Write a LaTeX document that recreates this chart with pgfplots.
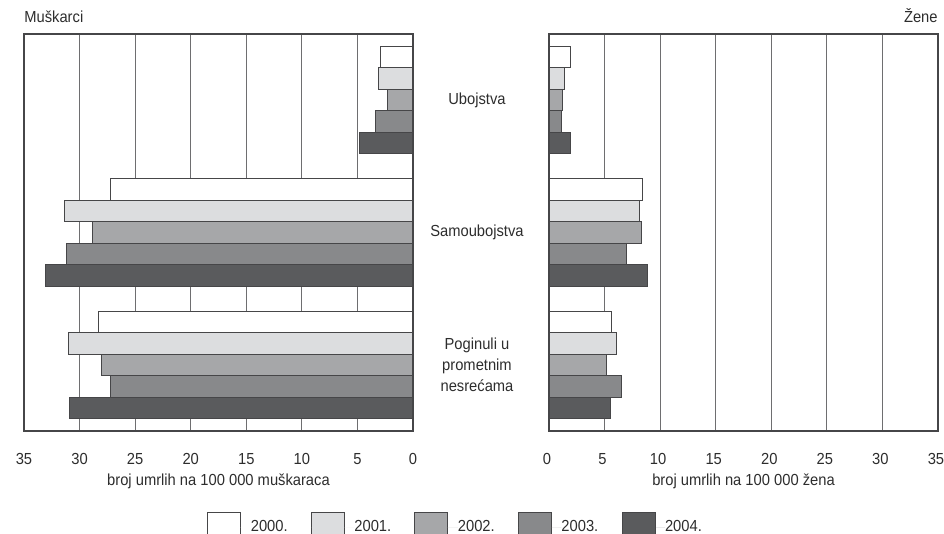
\documentclass[border=0pt]{standalone}
\usepackage{fontspec}
\setmainfont[FakeStretch=0.92]{Liberation Sans}
\usepackage{pgfplots}
\pgfplotsset{compat=1.18}

\definecolor{c2000}{RGB}{255,255,255}
\definecolor{c2001}{RGB}{220,221,223}
\definecolor{c2002}{RGB}{166,167,169}
\definecolor{c2003}{RGB}{136,137,139}
\definecolor{c2004}{RGB}{90,91,93}
\definecolor{edge}{RGB}{70,70,72}
\definecolor{gridc}{RGB}{110,110,112}
\definecolor{txt}{RGB}{45,45,45}

\pgfplotsset{
  panel/.style={
    scale only axis, width=194.5pt, height=198.5pt,
    xmin=0, xmax=35, xtick={0,5,...,35},
    ymin=-0.5, ymax=2.5, y dir=reverse, ytick={0,1,2},
    clip=false,
    major tick length=0pt,
    /pgf/number format/assume math mode=true,
    xmajorgrids, major grid style={draw=gridc, line width=0.5pt},
    axis line style={draw=edge, line width=0.7pt},
    xbar, bar width=10.75pt,
    every axis plot/.append style={draw=edge, line width=0.5pt},
    tick label style={font=\fontsize{8}{10.5}\selectfont, text=txt},
    xticklabel style={anchor=base, yshift=-16.5pt},
    xlabel style={font=\fontsize{8}{9.6}\selectfont, text=txt,
      at={(axis description cs:0.5,0)}, anchor=base, yshift=-27pt},
  }
}

\begin{document}
\begin{tikzpicture}
\useasboundingbox (0,0) rectangle (472pt,-267pt);

% Muskarci
\begin{axis}[panel, at={(12pt,-215.5pt)}, anchor=south west,
  x dir=reverse,
  yticklabel pos=right,
  yticklabels={Ubojstva, Samoubojstva, {Poginuli u\\prometnim\\nesrećama}},
  yticklabel style={anchor=center, align=center, xshift=32pt},
  xlabel={broj umrlih na 100 000 muškaraca},
  legend columns=5,
  legend style={at={(1.107,-0.24)}, anchor=center, draw=none, fill=none,
    font=\fontsize{8}{9.6}\selectfont, text=txt,
    nodes={inner xsep=0pt},
    /tikz/every even column/.append style={column sep=11.6pt}},
  legend image code/.code={\draw[#1] (0pt,-6pt) rectangle (16.5pt,7.5pt);
    \path[draw=none] (0pt,0pt) -- (21.5pt,0pt);},
]
\addplot[fill=c2000, bar shift=21.5pt] coordinates {(2.9,0) (27.2,1) (28.3,2)};
\addplot[fill=c2001, bar shift=10.75pt] coordinates {(3.1,0) (31.4,1) (31.0,2)};
\addplot[fill=c2002, bar shift=0pt] coordinates {(2.3,0) (28.8,1) (28.0,2)};
\addplot[fill=c2003, bar shift=-10.75pt] coordinates {(3.4,0) (31.2,1) (27.2,2)};
\addplot[fill=c2004, bar shift=-21.5pt] coordinates {(4.8,0) (33.1,1) (30.9,2)};
\legend{2000., 2001., 2002., 2003., 2004.}
\node[anchor=base west, inner sep=0pt, yshift=6pt, font=\fontsize{8}{9.6}\selectfont, text=txt]
  at (axis description cs:0,1) {Muškarci};
\end{axis}

% Zene
\begin{axis}[panel, at={(274.5pt,-215.5pt)}, anchor=south west,
  yticklabels={},
  xticklabel style={xshift=-1pt},
  xlabel={broj umrlih na 100 000 žena},
]
\addplot[fill=c2000, bar shift=21.5pt] coordinates {(1.95,0) (8.4,1) (5.6,2)};
\addplot[fill=c2001, bar shift=10.75pt] coordinates {(1.35,0) (8.1,1) (6.1,2)};
\addplot[fill=c2002, bar shift=0pt] coordinates {(1.25,0) (8.3,1) (5.15,2)};
\addplot[fill=c2003, bar shift=-10.75pt] coordinates {(1.15,0) (7.0,1) (6.5,2)};
\addplot[fill=c2004, bar shift=-21.5pt] coordinates {(1.95,0) (8.9,1) (5.55,2)};
\node[anchor=base east, inner sep=0pt, yshift=6pt, font=\fontsize{8}{9.6}\selectfont, text=txt]
  at (axis description cs:1,1) {Žene};
\end{axis}
\end{tikzpicture}
\end{document}
